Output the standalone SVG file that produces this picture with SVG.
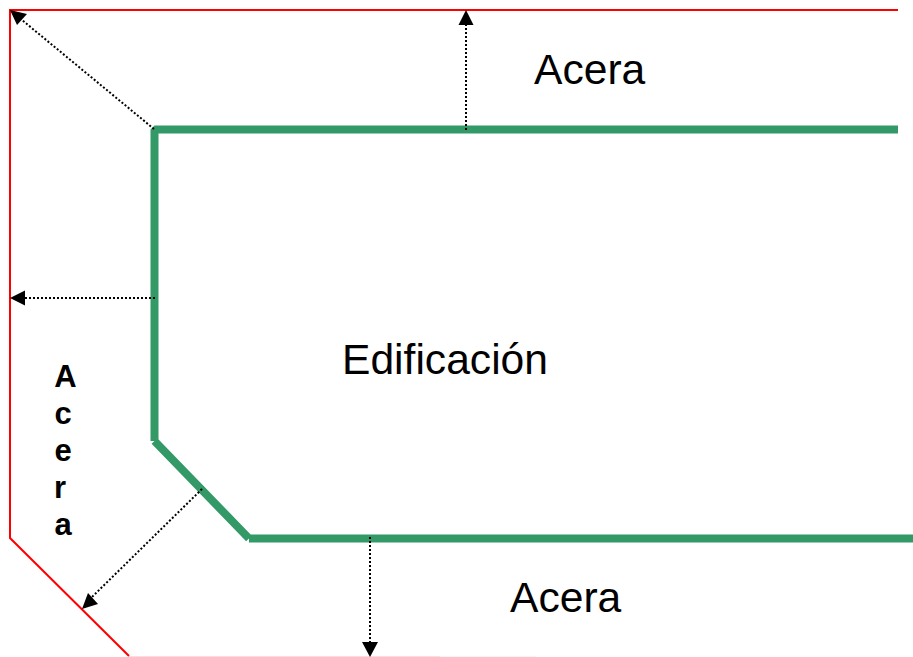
<svg xmlns="http://www.w3.org/2000/svg" width="913" height="657" viewBox="0 0 913 657">
<style>
.red{fill:none;stroke:#ff0000;stroke-width:2}
.green{fill:none;stroke:#339966;stroke-width:8;stroke-linejoin:bevel}
.arrow{stroke:#000;stroke-width:2;stroke-dasharray:2 2;fill:none}
.head{fill:#000;stroke:none}
text{font-family:"Liberation Sans",Arial,sans-serif;fill:#000}
.big{font-size:42.6px}
.v{font-size:31px;font-weight:bold;text-anchor:middle}
</style>
<rect width="913" height="657" fill="#fff"/>
<g id="acera-border"><path class="red" d="M898 10H10V538L129 656"/><path d="M129 656.500H440" stroke="#ffdddd" stroke-width="1" fill="none"/><path d="M440 656.500H536" stroke="#f6f6f6" stroke-width="1" fill="none"/></g>
<g id="edificacion-wall"><path class="green" d="M898 129.500H154.500V441M154.500 441L249 538.500M249 538.500H913"/></g>
<g id="connectors">
<path class="arrow" d="M154 129L22 20"/><path class="head" d="M10 10L27 14L17 25Z"/>
<path class="arrow" d="M466 130V24"/><path class="head" d="M466 10L473.500 25H458.500Z"/>
<path class="arrow" d="M155 298H24"/><path class="head" d="M10 298L25 290.500V305.500Z"/>
<path class="arrow" d="M202 489L92 597"/><path class="head" d="M82 609L88 593L98 604Z"/>
<path class="arrow" d="M370 537V643"/><path class="head" d="M370 657L362 642H378Z"/>
</g>
<g id="label-acera-top"><text class="big" x="534" y="84">Acera</text></g>
<g id="label-edificacion"><text class="big" x="342" y="374">Edificación</text></g>
<g id="label-acera-bottom"><text class="big" x="510" y="612">Acera</text></g>
<g id="label-acera-vertical"><text class="v" x="65.500" y="386.500">A</text><text class="v" x="63" y="424">c</text><text class="v" x="63" y="461">e</text><text class="v" x="60" y="498">r</text><text class="v" x="63" y="535">a</text></g>
</svg>
